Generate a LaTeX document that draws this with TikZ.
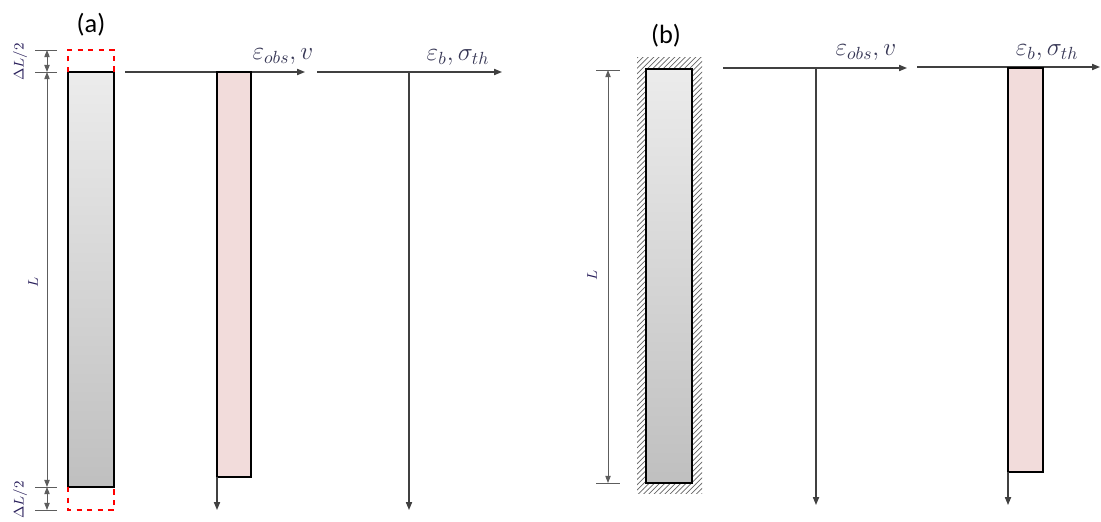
\documentclass[tikz,border=0pt]{standalone}
\usepackage{amsmath,amssymb}
\usepackage{fontspec}
\setmainfont{Carlito}
\usepackage{xcolor}
\usepackage{tikz}
\usetikzlibrary{arrows.meta,positioning,calc,patterns}
\definecolor{axisgray}{RGB}{64,64,64}
\definecolor{barpink}{RGB}{242,220,219}
\definecolor{labelink}{RGB}{55,55,85}
\definecolor{dimink}{RGB}{40,30,90}

\tikzset{
  axis/.style={draw=axisgray, line width=0.7pt, -{Triangle[length=4.5pt,width=3.5pt]}},
  dimline/.style={draw=axisgray!85, line width=0.5pt, {Triangle[length=4pt,width=3pt]}-{Triangle[length=4pt,width=3pt]}},
  tickline/.style={draw=axisgray!85, line width=0.5pt},
  barframe/.style={draw=black, line width=0.9pt},
  extbox/.style={draw=red, dashed, line width=0.6pt},
  axlabel/.style={text=labelink, font=\fontsize{14}{16}\selectfont},
  dimlabel/.style={text=dimink, font=\fontsize{8.5}{10}\selectfont, rotate=90},
  panel/.style={font=\fontsize{15}{17}\selectfont, text=black},
}

\begin{document}
\begin{tikzpicture}[x=0.02cm,y=-0.02cm]
			\useasboundingbox (0,0) rectangle (1101,521);
			
			% (a) column with its extension
			\node[panel] (capa) at (91,25) {(a)};
			\shade[top color=gray!15, bottom color=gray!50] (68,72) rectangle (114,487);
			\draw[barframe] (68,72) rectangle (114,487);
			\draw[extbox] (68,72) -- (68,50) -- (114,50) -- (114,72);
			\draw[extbox] (68,487) -- (68,510) -- (114,510) -- (114,487);
			
			\coordinate (da0) at (47,50);
			\coordinate (da1) at (47,72);
			\coordinate (da2) at (47,487);
			\coordinate (da3) at (47,510);
			\foreach \c in {da0,da1,da2,da3}
				\draw[tickline] ($(\c)+(-12,0)$) -- ($(\c)+(10,0)$);
			\draw[dimline] (da0) -- (da1);
			\draw[dimline] (da1) -- (da2);
			\draw[dimline] (da2) -- (da3);
			\node[dimlabel] (dla) at (20,62) {$\Delta L/2$};
			\node[dimlabel] (lla) at (33,282) {$L$};
			\node[dimlabel] (dlb) at (20,500) {$\Delta L/2$};
			
			% (a) observed strain
			\coordinate (oa1) at (125,72);
			\coordinate (ea1) at (305,72);
			\draw[axis] (oa1) -- (ea1);
			\node[axlabel] (obsa) at (283,57) {$\varepsilon_{obs},v$};
			\fill[barpink] (217,72) rectangle (251,477);
			\draw[barframe] (217,72) rectangle (251,477);
			\coordinate (pa) at (217,477);
			\coordinate (pa1) at (217,510);
			\draw[axis] (pa) -- (pa1);
			
			% (a) blocked strain
			\coordinate (oa2) at (317,72);
			\coordinate (ea2) at (502,72);
			\draw[axis] (oa2) -- (ea2);
			\node[axlabel] (bla) at (458,58) {$\varepsilon_b,\sigma_{th}$};
			\coordinate (va) at (409,72);
			\coordinate (va1) at (409,510);
			\draw[axis] (va) -- (va1);
			
			% (b) restrained column
			\node[panel] (capb) at (666,36) {(b)};
			\fill[pattern=north east lines, pattern color=gray!80!black] (637,57) rectangle (702,493);
			\fill[white] (646,69) rectangle (692,483);
			\shade[top color=gray!15, bottom color=gray!50] (646,69) rectangle (692,483);
			\draw[barframe] (646,69) rectangle (692,483);
			
			\coordinate (db0) at (608,70);
			\coordinate (db1) at (608,483);
			\foreach \c in {db0,db1}
				\draw[tickline] ($(\c)+(-12,0)$) -- ($(\c)+(12,0)$);
			\draw[dimline] (db0) -- (db1);
			\node[dimlabel] (llb) at (592,275) {$L$};
			
			% (b) observed strain
			\coordinate (ob1) at (723,68);
			\coordinate (eb1) at (907,68);
			\draw[axis] (ob1) -- (eb1);
			\node[axlabel] (obsb) at (866,53) {$\varepsilon_{obs},v$};
			\coordinate (vb) at (816,68);
			\coordinate (vb1) at (816,505);
			\draw[axis] (vb) -- (vb1);
			
			% (b) blocked strain
			\coordinate (ob2) at (917,67);
			\coordinate (eb2) at (1100,67);
			\draw[axis] (ob2) -- (eb2);
			\node[axlabel] (blb) at (1047,53) {$\varepsilon_b,\sigma_{th}$};
			\fill[barpink] (1008,68) rectangle (1043,472);
			\draw[barframe] (1008,68) rectangle (1043,472);
			\coordinate (pb) at (1008,472);
			\coordinate (pb1) at (1008,505);
			\draw[axis] (pb) -- (pb1);
			
		\end{tikzpicture}
\end{document}
